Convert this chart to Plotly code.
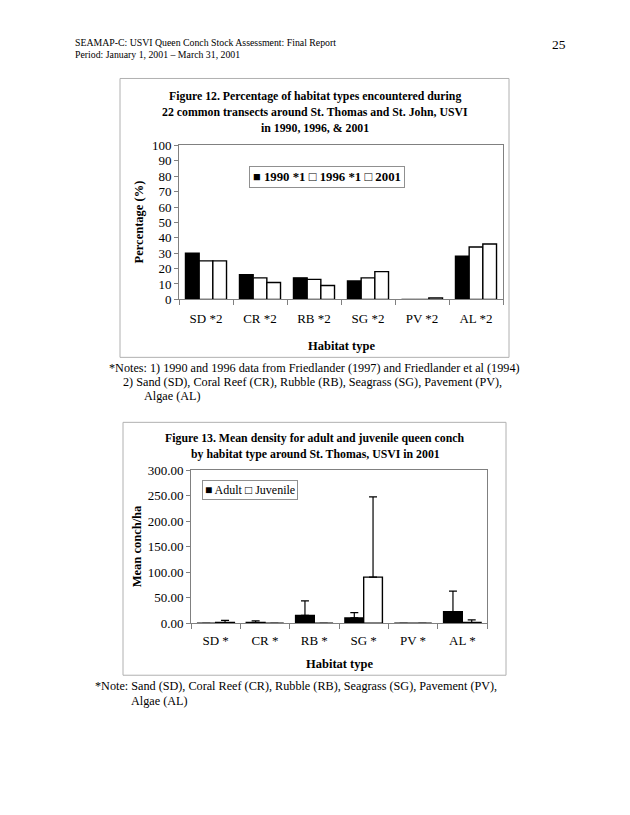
import plotly.graph_objects as go

W, H = 630, 815
# vertical calibration (measured from previous renders of this page)
VS, VO = 0.982, 6.5
def px(x): return x / W
def py(y): return 1 - ((y - VO) / VS) / H

FONT = "Liberation Serif"

# ---- Figure 12 data ----
habitats1 = ["SD *2", "CR *2", "RB *2", "SG *2", "PV *2", "AL *2"]
pct_1990 = [30, 16, 14, 12, 0, 28]
pct_1996 = [25, 14, 13, 14, 0, 34]
pct_2001 = [25, 11, 9, 18, 1, 36]
y1_ticks = list(range(0, 101, 10))

# ---- Figure 13 data ----
habitats2 = ["SD *", "CR *", "RB *", "SG *", "PV *", "AL *"]
adult = [0, 1.5, 15.5, 10.5, 0, 22.5]
adult_err = [0, 3, 28.5, 10.5, 0, 40.5]
juvenile = [1.5, 0, 0, 90.5, 0, 1.5]
juvenile_err = [4, 0, 0, 157.5, 0, 5]
y2_ticks = [0, 50, 100, 150, 200, 250, 300]

fig = go.Figure()

barline = dict(color="black", width=1.4)
fig.add_trace(go.Bar(x=habitats1, y=pct_1990, name="1990 *1", marker=dict(color="black", line=barline),
                     xaxis="x", yaxis="y", showlegend=False))
fig.add_trace(go.Bar(x=habitats1, y=pct_1996, name="1996 *1", marker=dict(color="white", line=barline),
                     xaxis="x", yaxis="y", showlegend=False))
fig.add_trace(go.Bar(x=habitats1, y=pct_2001, name="2001", marker=dict(color="white", line=barline),
                     xaxis="x", yaxis="y", showlegend=False))

errstyle = dict(type="data", symmetric=False, color="black", thickness=1.2, width=4)
fig.add_trace(go.Bar(x=habitats2, y=adult, name="Adult", marker=dict(color="black", line=barline),
                     error_y=dict(array=adult_err, arrayminus=[0]*6, **errstyle),
                     xaxis="x2", yaxis="y2", showlegend=False))
fig.add_trace(go.Bar(x=habitats2, y=juvenile, name="Juvenile", marker=dict(color="white", line=barline),
                     error_y=dict(array=juvenile_err, arrayminus=[0]*6, **errstyle),
                     xaxis="x2", yaxis="y2", showlegend=False))

axcol = "#808080"
common_x = dict(showgrid=False, showline=True, linecolor=axcol, linewidth=1, mirror=True,
                ticks="outside", tickson="boundaries", ticklen=5, tickcolor=axcol,
                tickfont=dict(family=FONT, size=13, color="black"), fixedrange=True)
common_y = dict(showgrid=False, showline=True, linecolor=axcol, linewidth=1, mirror=True,
                ticks="outside", ticklen=4, tickcolor=axcol, zeroline=False,
                tickfont=dict(family=FONT, size=13, color="black"), fixedrange=True)

fig.update_layout(
    width=W, height=H, margin=dict(l=0, r=0, t=0, b=0),
    paper_bgcolor="white", plot_bgcolor="white",
    barmode="group", bargap=0.24, bargroupgap=0,
    xaxis=dict(domain=[px(179), px(503)], anchor="y", ticklabelstandoff=7, **common_x),
    yaxis=dict(domain=[py(299), py(145)], anchor="x", range=[0, 100], tickvals=y1_ticks, **common_y),
    xaxis2=dict(domain=[px(191), px(487)], anchor="y2", ticklabelstandoff=5, **common_x),
    yaxis2=dict(domain=[py(623), py(470)], anchor="x2", range=[0, 300], tickvals=y2_ticks,
                tickformat=".2f", **common_y),
    showlegend=False,
)

shapes = [
    dict(type="rect", xref="paper", yref="paper", x0=px(120), x1=px(509), y0=py(357), y1=py(78),
         line=dict(color="#b0b0b0", width=1)),
    dict(type="rect", xref="paper", yref="paper", x0=px(123), x1=px(506), y0=py(675), y1=py(422),
         line=dict(color="#b0b0b0", width=1)),
]
fig.update_layout(shapes=shapes)

def ann(text, x, y, size=13, bold=False, xanchor="center", angle=0, **kw):
    t = f"<b>{text}</b>" if bold else text
    return dict(text=t, x=px(x), y=py(y), xref="paper", yref="paper", showarrow=False,
                xanchor=xanchor, yanchor="middle", textangle=angle,
                font=dict(family=FONT, size=size, color="black"), **kw)

TS = 11.8   # chart title size
NS = 12.2   # note size
annotations = [
    ann("SEAMAP-C: USVI Queen Conch Stock Assessment: Final Report", 73, 42, size=9.8, xanchor="left"),
    ann("Period: January 1, 2001 \u2013 March 31, 2001", 73, 54, size=9.8, xanchor="left"),
    ann("25", 550, 44, size=13.5, xanchor="left"),
    # Figure 12
    ann("Figure 12. Percentage of habitat types encountered during", 315, 96, size=TS, bold=True),
    ann("22 common transects around St. Thomas and St. John, USVI", 315, 112, size=TS, bold=True),
    ann("in 1990, 1996, &amp; 2001", 315, 128, size=TS, bold=True),
    ann("Percentage (%)", 139, 222, size=12.5, bold=True, angle=-90),
    ann("Habitat type", 341, 346, size=12.5, bold=True),
    ann("\u25A0 1990 *1 \u25A1 1996 *1 \u25A1 2001", 327, 177, size=12.8, bold=True,
        bordercolor="#909090", borderwidth=1, borderpad=3, bgcolor="white"),
    # notes
    ann("*Notes: 1) 1990 and 1996 data from Friedlander (1997) and Friedlander et al (1994)", 107, 368,
        size=NS, xanchor="left"),
    ann("2) Sand (SD), Coral Reef (CR), Rubble (RB), Seagrass (SG), Pavement (PV),", 121, 382,
        size=NS, xanchor="left"),
    ann("Algae (AL)", 142, 396, size=NS, xanchor="left"),
    # Figure 13
    ann("Figure 13. Mean density for adult and juvenile queen conch", 315, 438, size=TS, bold=True),
    ann("by habitat type around St. Thomas, USVI in 2001", 315, 454, size=TS, bold=True),
    ann("Mean conch/ha", 137, 546, size=12.5, bold=True, angle=-90),
    ann("Habitat type", 339, 664, size=12.5, bold=True),
    ann("\u25A0 Adult \u25A1 Juvenile", 250, 490, size=12,
        bordercolor="#909090", borderwidth=1, borderpad=2, bgcolor="white"),
    ann("*Note: Sand (SD), Coral Reef (CR), Rubble (RB), Seagrass (SG), Pavement (PV),", 93, 686,
        size=NS, xanchor="left"),
    ann("Algae (AL)", 129, 701, size=NS, xanchor="left"),
]
fig.update_layout(annotations=annotations)

fig.write_html("out.html", config={"displayModeBar": False},
               post_script="document.body.style.margin='0';document.body.style.overflow='hidden';")
